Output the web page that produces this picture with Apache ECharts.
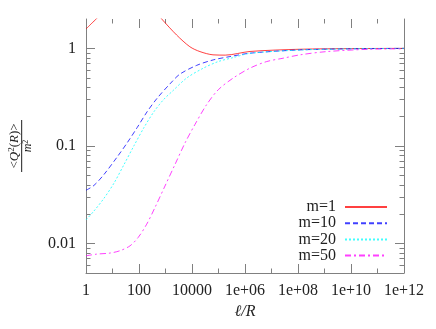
<!DOCTYPE html>
<html>
<head>
<meta charset="utf-8">
<script src="https://cdn.jsdelivr.net/npm/echarts@6/dist/echarts.min.js"></script>
<style>
  html, body { margin: 0; padding: 0; background: #fff; }
  #chart { width: 436px; height: 329px; }
</style>
</head>
<body>
<div id="chart"></div>
<script>
// axis ranges and ticks
const xMin = 1
const xMax = 1e12
const yMin = 0.005
const yMax = 2
const xTicks = [1, 100, 1e4, 1e6, 1e8, 1e10, 1e12]
const xTickLabels = ['1', '100', '10000', '1e+06', '1e+08', '1e+10', '1e+12']
const xMinorTicks = [10, 1e3, 1e5, 1e7, 1e9, 1e11]
const yTicks = [0.01, 0.1, 1]
const yTickLabels = ['0.01', '0.1', '1']
const yMinorTicks = [0.006, 0.007, 0.008, 0.009,
  0.02, 0.03, 0.04, 0.05, 0.06, 0.07, 0.08, 0.09,
  0.2, 0.3, 0.4, 0.5, 0.6, 0.7, 0.8, 0.9]

// series
const m1X = [1, 1.8, 2.9, 10, 32, 100, 316, 720, 2630, 8300, 2e4, 6.2e4, 1.8e5, 1.55e6, 1.2e8, 1e10, 1e12]
const m1Y = [1.58, 1.85, 2.1, 3.2, 4.5, 3.6, 2.6, 2.0, 1.37, 1.04, 0.927, 0.859, 0.853, 0.93, 0.98, 0.995, 1.0]

const m10X = [1, 2, 4.8, 15.2, 36, 86, 206, 490, 1570, 3500, 1.5e4, 6.3e4, 2.7e5, 1.55e6, 1.2e8, 1e10, 1e12]
const m10Y = [0.0352, 0.0395, 0.0512, 0.0776, 0.108, 0.155, 0.226, 0.31, 0.441, 0.545, 0.67, 0.762, 0.824, 0.893, 0.965, 0.99, 1.0]

const m20X = [1, 2, 4.8, 11.4, 27.2, 65, 155, 368, 877, 1800, 6300, 2.7e4, 9.8e4, 3.6e5, 1.55e6, 1.2e8, 1e10, 1e12]
const m20Y = [0.0175, 0.0216, 0.0292, 0.0417, 0.0646, 0.101, 0.155, 0.225, 0.302, 0.363, 0.497, 0.628, 0.733, 0.805, 0.89, 0.962, 0.99, 1.0]

const m50X = [1, 2.5, 8, 19, 46, 93, 195, 400, 955, 2290, 5500, 1.29e4, 3.55e4, 9.8e4, 3.6e5, 1.55e6, 6.6e6, 2.8e7, 1.2e8, 1.2e9, 5e10, 1e12]
const m50Y = [0.0075, 0.0078, 0.008, 0.00845, 0.0095, 0.01156, 0.0158, 0.0234, 0.0389, 0.0648, 0.108, 0.166, 0.265, 0.377, 0.497, 0.628, 0.733, 0.794, 0.859, 0.927, 0.98, 0.99]

const axisGray = '#808080'
const textColor = '#222'
const serif = 'Liberation Serif'

const zip = (xs, ys) => xs.map((x, i) => [x, ys[i]])
const exps = arr => arr.map(v => Math.log10(v))

// the data axes (log), drawn without decoration
const dataAxis = (min, max) => ({
  type: 'log',
  logBase: 10,
  min,
  max,
  show: false
})

// decoration axes: one per side and tick length, gnuplot style (inward, mirrored)
const tickAxis = (position, min, max, ticks, length, label, showLine) => {
  const axis = {
    type: 'value',
    min: Math.log10(min),
    max: Math.log10(max),
    position,
    axisLine: { show: showLine, onZero: false, lineStyle: { color: axisGray, width: 1 } },
    axisTick: { inside: true, length, customValues: exps(ticks), lineStyle: { color: axisGray } },
    axisLabel: { show: false },
    splitLine: { show: false }
  }
  if (label) {
    const at = exps(label.ticks)
    axis.axisLabel = {
      customValues: at,
      margin: label.margin,
      color: textColor,
      fontFamily: serif,
      fontSize: 16,
      formatter: v => {
        const i = at.findIndex(t => Math.abs(t - v) < 1e-6)
        return i >= 0 ? label.texts[i] : ''
      }
    }
  }
  return axis
}

const lineSeries = (name, data, color, type) => ({
  name,
  type: 'line',
  data,
  symbol: 'none',
  smooth: 0.3,
  clip: true,
  lineStyle: { color, width: 1, type, opacity: 0.75 },
  itemStyle: { color }
})

const chart = echarts.init(document.getElementById('chart'))

chart.setOption({
  animation: false,
  backgroundColor: '#fff',
  grid: { left: 86, right: 32, top: 19, bottom: 56 },
  xAxis: [
    dataAxis(xMin, xMax),
    {
      ...tickAxis('bottom', xMin, xMax, xTicks, 9, { ticks: xTicks, texts: xTickLabels, margin: 10 }, true),
      name: 'ℓ/R',
      nameLocation: 'middle',
      nameGap: 31,
      nameTextStyle: { fontFamily: serif, fontStyle: 'italic', fontSize: 16, color: textColor }
    },
    tickAxis('bottom', xMin, xMax, xMinorTicks, 4.5, null, false),
    tickAxis('top', xMin, xMax, xTicks, 9, null, false),
    tickAxis('top', xMin, xMax, xMinorTicks, 4.5, null, false)
  ],
  yAxis: [
    dataAxis(yMin, yMax),
    tickAxis('left', yMin, yMax, yTicks, 9, { ticks: yTicks, texts: yTickLabels, margin: 10 }, true),
    tickAxis('left', yMin, yMax, yMinorTicks, 4.5, null, false),
    tickAxis('right', yMin, yMax, yTicks, 9, null, true),
    tickAxis('right', yMin, yMax, yMinorTicks, 4.5, null, false)
  ],
  legend: {
    orient: 'vertical',
    right: 48,
    top: 199,
    padding: 0,
    align: 'right',
    itemWidth: 42,
    itemHeight: 2,
    itemGap: 0.2,
    itemStyle: { opacity: 0 },
    textStyle: { fontFamily: serif, fontSize: 16, color: textColor, padding: [0, 4, 0, 0] },
    data: ['m=1', 'm=10', 'm=20', 'm=50']
  },
  graphic: [
    {
      type: 'group',
      x: 21.5,
      y: 146,
      rotation: Math.PI / 2,
      children: [
        {
          type: 'text',
          x: 0,
          y: -7,
          style: {
            text: '{n|<}{i|Q}{s|2}{n|(}{i|R}{n|)>}',
            align: 'center',
            verticalAlign: 'middle',
            fill: textColor,
            rich: {
              n: { fontFamily: serif, fontSize: 13, fill: textColor },
              i: { fontFamily: serif, fontSize: 13, fontStyle: 'italic', fill: textColor },
              s: { fontFamily: serif, fontSize: 9, fill: textColor, verticalAlign: 'top', padding: [0, 0, 6, 0] }
            }
          }
        },
        {
          type: 'rect',
          shape: { x: -26, y: -0.5, width: 52, height: 1.2 },
          style: { fill: '#444' }
        },
        {
          type: 'text',
          x: 0,
          y: 6.5,
          style: {
            text: '{i|m}{s|2}',
            align: 'center',
            verticalAlign: 'middle',
            rich: {
              i: { fontFamily: serif, fontSize: 12, fontStyle: 'italic', fill: textColor },
              s: { fontFamily: serif, fontSize: 8, fill: textColor, verticalAlign: 'top', padding: [0, 0, 5, 0] }
            }
          }
        }
      ]
    }
  ],
  series: [
    lineSeries('m=1', zip(m1X, m1Y), '#ff0000', 'solid'),
    lineSeries('m=10', zip(m10X, m10Y), '#0000ff', [5, 3]),
    lineSeries('m=20', zip(m20X, m20Y), '#00ffff', [2, 2]),
    lineSeries('m=50', zip(m50X, m50Y), '#ff00ff', [6, 3, 2, 3])
  ]
})
</script>
</body>
</html>
